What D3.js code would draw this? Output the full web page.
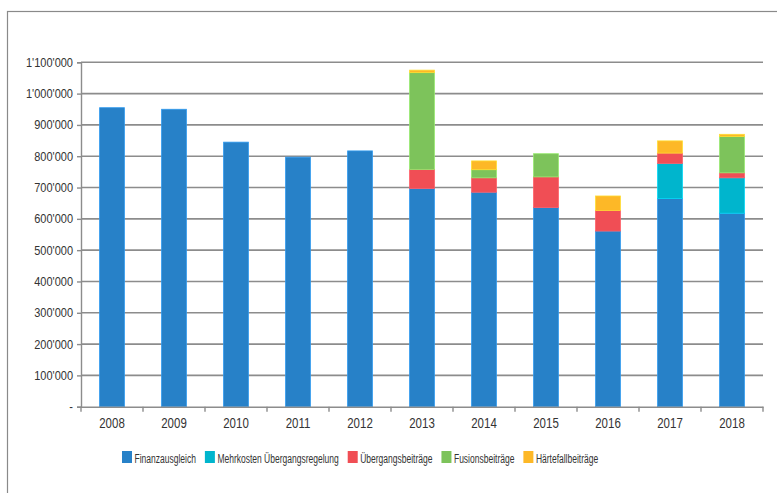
<!DOCTYPE html>
<html><head><meta charset="utf-8">
<script src="https://cdn.jsdelivr.net/npm/d3@7/dist/d3.min.js"></script>
<style>
body{margin:0;background:#fff;}
svg{display:block;}
text{font-family:"Liberation Sans Narrow","Liberation Sans",Arial,sans-serif;fill:#333;}
</style></head>
<body>
<svg id="c" width="777" height="493"></svg>
<script>
const years = ["2008","2009","2010","2011","2012","2013","2014","2015","2016","2017","2018"];
const seriesNames = ["Finanzausgleich","Mehrkosten Übergangsregelung","Übergangsbeiträge","Fusionsbeiträge","Härtefallbeiträge"];
const seriesColors = ["#2781C8","#00B5CD","#F04E55","#7DC35B","#FDB827"];
const finanzausgleich = [955000,950000,845000,797000,817000,697000,685000,636000,561000,665000,618000];
const mehrkosten      = [0,0,0,0,0,0,0,0,0,112000,113000];
const uebergang       = [0,0,0,0,0,61000,46000,98000,66000,33000,16000];
const fusion          = [0,0,0,0,0,309000,26000,74000,0,0,116000];
const haertefall      = [0,0,0,0,0,8000,28000,0,46000,39000,7000];
const yTicks = [0,100000,200000,300000,400000,500000,600000,700000,800000,900000,1000000,1100000];

const seriesValues = [finanzausgleich,mehrkosten,uebergang,fusion,haertefall];
const table = years.map((yr,i)=>{const o={year:yr};seriesNames.forEach((n,k)=>o[n]=seriesValues[k][i]);return o;});

const svg = d3.select("#c");
svg.append("rect").attr("x",7.5).attr("y",11.5).attr("width",800).attr("height",600)
  .attr("fill","none").attr("stroke","#8a8a8a").attr("stroke-width",1.2);

const pLeft=81, pRight=763, pTop=62.3, pBottom=406.7;
const x = d3.scaleBand().domain(years).range([pLeft,pRight]).paddingInner(0.6).paddingOuter(0.3);
const y = d3.scaleLinear().domain([0,1100000]).range([pBottom,pTop]);

const fmt = v => v===0 ? "-" : d3.format(",")(v).replace(/,/g,"'");

svg.append("g").selectAll("line").data(yTicks.filter(t=>t>0)).join("line")
  .attr("x1",pLeft).attr("x2",pRight).attr("y1",d=>y(d)).attr("y2",d=>y(d))
  .attr("stroke","#8c8c8c").attr("stroke-width",1.6);

const stack = d3.stack().keys(seriesNames)(table);
svg.append("g").selectAll("g").data(stack).join("g")
  .attr("fill",(d,i)=>seriesColors[i])
  .attr("stroke",(d,i)=>d3.color(seriesColors[i]).brighter(0.5))
  .attr("stroke-width",0.8)
  .selectAll("rect").data(d=>d.filter(s=>s[1]-s[0]>0)).join("rect")
  .attr("x",d=>x(d.data.year)).attr("width",x.bandwidth())
  .attr("y",d=>y(d[1])).attr("height",d=>y(d[0])-y(d[1]));

const ySx = 0.88;
const yAxis = d3.axisLeft(y).tickValues(yTicks).tickFormat(fmt).tickSize(4).tickPadding(4);
const gy = svg.append("g").attr("transform",`translate(${pLeft},0)`).call(yAxis);
gy.select(".domain").attr("stroke","#8c8c8c").attr("stroke-width",1.4);
gy.selectAll(".tick line").attr("stroke","#8c8c8c").attr("stroke-width",1.4);
gy.selectAll("text").attr("font-size","12.5px").attr("fill","#333")
  .attr("x",-8/ySx).attr("transform",`scale(${ySx},1)`);

const xAxis = d3.axisBottom(x).tickSize(0).tickPadding(11);
const gx = svg.append("g").attr("transform",`translate(0,${pBottom})`).call(xAxis);
gx.select(".domain").attr("stroke","#8c8c8c").attr("stroke-width",1.4);
gx.selectAll("text").attr("font-size","14px").attr("fill","#333").attr("transform","scale(0.82,1)");
const edges = years.map((yr,i)=>pLeft + i*(pRight-pLeft)/years.length).concat([pRight]);
gx.append("g").selectAll("line").data(edges).join("line")
  .attr("x1",d=>d).attr("x2",d=>d).attr("y1",0).attr("y2",5)
  .attr("stroke","#8c8c8c").attr("stroke-width",1.4);

const lSx = 0.63;
const lg = svg.append("g").attr("transform","translate(122,0)");
let lx=0;
seriesNames.forEach((n,i)=>{
  const g = lg.append("g").attr("transform",`translate(${lx},0)`);
  g.append("rect").attr("x",0).attr("y",451).attr("width",10).attr("height",12).attr("fill",seriesColors[i]);
  const t = g.append("text").attr("transform",`translate(12.5,463) scale(${lSx},1)`).attr("font-size","13.5px").text(n);
  lx += 12.5 + t.node().getComputedTextLength()*lSx + 9;
});
</script>
</body></html>
